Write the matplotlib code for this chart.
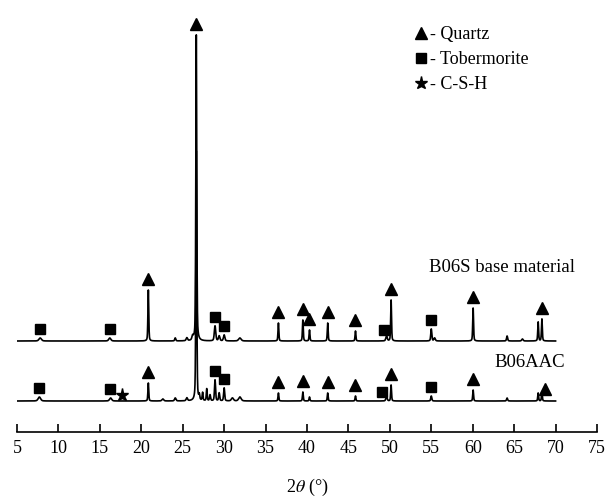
import numpy as np
import matplotlib.pyplot as plt
from matplotlib.lines import Line2D

plt.rcParams['font.family'] = ['Liberation Serif', 'DejaVu Serif']
plt.rcParams['mathtext.fontset'] = 'stix'

# B06S base material: peak positions (2theta), intensities, widths
b06s_pos = [7.8, 16.2, 20.85, 24.1, 25.5, 26.2, 26.64, 28.9, 29.4, 30.0, 31.9,
            36.55, 39.5, 40.3, 42.5, 45.85, 49.6, 50.15, 55.0, 55.4, 60.05,
            64.15, 66.0, 67.9, 68.35]
b06s_int = [3, 3, 51, 3, 3, 4, 306, 15, 5, 6, 3,
            18, 21, 11, 18, 10, 5, 41, 12, 3, 33,
            5, 2, 19, 22]
b06s_fwhm = [0.35, 0.3, 0.12, 0.15, 0.2, 0.2, 0.13, 0.2, 0.2, 0.2, 0.35,
             0.12, 0.12, 0.12, 0.12, 0.12, 0.2, 0.12, 0.15, 0.2, 0.12,
             0.15, 0.2, 0.12, 0.12]

# B06AAC
b06aac_pos = [7.7, 16.3, 20.85, 22.6, 24.1, 25.5, 26.64, 27.0, 27.4, 27.9, 28.3,
              28.9, 29.4, 30.0, 31.0, 31.9, 36.55, 39.5, 40.3, 42.5, 45.85,
              49.6, 50.15, 55.0, 60.05, 64.15, 67.9, 68.35]
b06aac_int = [4, 3, 18, 2, 3, 3, 250, 5, 8, 12, 6,
              21, 8, 13, 3, 4, 8, 9, 4, 8, 5,
              4, 16, 5, 11, 3, 8, 9]
b06aac_fwhm = [0.35, 0.3, 0.12, 0.25, 0.2, 0.2, 0.13, 0.12, 0.12, 0.12, 0.15,
               0.15, 0.15, 0.15, 0.3, 0.35, 0.12, 0.12, 0.12, 0.12, 0.12,
               0.2, 0.12, 0.15, 0.12, 0.15, 0.12, 0.12]

# phase identification marks
b06s_quartz = [20.85, 26.64, 36.55, 39.5, 40.3, 42.5, 45.85, 50.15, 60.05, 68.4]
b06s_tober = [7.8, 16.2, 28.9, 30.0, 49.3, 55.0]
b06aac_quartz = [20.85, 36.55, 39.5, 42.5, 45.85, 50.15, 60.05, 68.7]
b06aac_tober = [7.6, 16.2, 28.9, 30.0, 49.0, 55.0]
b06aac_csh = [17.7]

offset_s = 91
offset_aac = 31

tt = np.linspace(5, 70, 6501)


def pattern(pos, inten, fwhm):
    y = np.zeros_like(tt)
    for p, h, w in zip(pos, inten, fwhm):
        g = np.exp(-4 * np.log(2) * ((tt - p) / w) ** 2)
        l = 1 / (1 + 4 * ((tt - p) / w) ** 2)
        y += h * (0.6 * g + 0.4 * l)
    return y


def mark_y(y, x, gap, win=0.2):
    sel = (tt > x - win) & (tt < x + win)
    return y[sel].max() + gap


fig = plt.figure(figsize=(6.1, 4.98), dpi=100)
ax = fig.add_axes([17 / 610, 66 / 498, 580 / 610, 432 / 498])

y_s = pattern(b06s_pos, b06s_int, b06s_fwhm) + offset_s
y_aac = pattern(b06aac_pos, b06aac_int, b06aac_fwhm) + offset_aac
ax.plot(tt, y_s, color='black', lw=1.2)
ax.plot(tt, y_aac, color='black', lw=1.2)

tri_ms, sq_ms, star_ms = 8.5, 6.5, 9.5
for y, q, t in [(y_s, b06s_quartz, b06s_tober), (y_aac, b06aac_quartz, b06aac_tober)]:
    ax.plot(q, [mark_y(y, x, 11) for x in q], '^', color='black', ms=tri_ms, ls='none')
    ax.plot(t, [mark_y(y, x, 9) for x in t], 's', color='black', ms=sq_ms, ls='none')
ax.plot(b06aac_csh, [mark_y(y_aac, x, 6) for x in b06aac_csh], '*', color='black',
        ms=star_ms, ls='none')

ax.text(63.5, 165, 'B06S base material', ha='center', va='center', fontsize=13.5)
ax.text(66.9, 70, 'B06AAC', ha='center', va='center', fontsize=13.5)

handles = [Line2D([], [], marker='^', color='black', ls='none', ms=tri_ms),
           Line2D([], [], marker='s', color='black', ls='none', ms=sq_ms),
           Line2D([], [], marker='*', color='black', ls='none', ms=star_ms)]
ax.legend(handles, ['- Quartz', '- Tobermorite', '- C-S-H'], loc='upper left',
          bbox_to_anchor=(0.697, 0.94), frameon=False, handlelength=0,
          handletextpad=0.5, labelspacing=0.45, borderpad=0, borderaxespad=0,
          fontsize=13)

ax.set_xlim(5, 75)
ax.set_ylim(0, 432)
ax.set_xticks(np.arange(5, 80, 5))
ax.set_yticks([])
for s in ['left', 'right', 'top']:
    ax.spines[s].set_visible(False)
ax.spines['bottom'].set_linewidth(1.2)
ax.tick_params(axis='x', direction='in', length=6, width=1.2, pad=6, labelsize=13)
ax.set_xlabel(r'2$\theta$ (°)', fontsize=13, labelpad=14)

fig.savefig('out.png', dpi=100)
